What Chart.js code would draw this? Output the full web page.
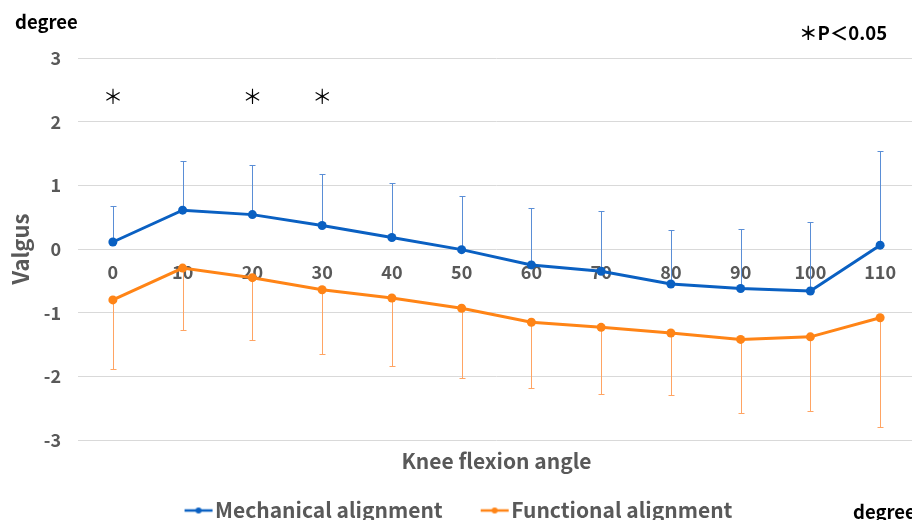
<!DOCTYPE html>
<html>
<head>
<meta charset="utf-8">
<script src="https://cdn.jsdelivr.net/npm/chart.js@4"></script>
<style>
  html, body { margin: 0; padding: 0; background: #fff; overflow: hidden; }
  #wrap { position: relative; width: 920px; height: 531px; }
  .note {
    position: absolute;
    font-family: "Noto Sans CJK JP", "Noto Sans", sans-serif;
    font-weight: bold;
    font-size: 18.5px;
    color: #000;
    white-space: nowrap;
  }
</style>
</head>
<body>
<div id="wrap">
  <canvas id="chart" width="920" height="531"></canvas>
  <div class="note" style="left:15px; top:8px;">degree</div>
  <div class="note" style="left:799px; top:19px;">＊P＜0.05</div>
  <div class="note" style="left:853px; top:498px;">degree</div>
</div>
<script>
// knee flexion angles (x categories)
const angles = ['0', '10', '20', '30', '40', '50', '60', '70', '80', '90', '100', '110'];

// mean valgus angle and SD for each group
const mechanical = [0.11, 0.61, 0.54, 0.37, 0.18, -0.01, -0.25, -0.35, -0.55, -0.62, -0.66, 0.06];
const mechanicalSD = [0.57, 0.77, 0.78, 0.81, 0.85, 0.84, 0.89, 0.94, 0.85, 0.93, 1.09, 1.48];
const functional = [-0.80, -0.30, -0.45, -0.64, -0.77, -0.93, -1.15, -1.23, -1.32, -1.42, -1.38, -1.08];
const functionalSD = [1.09, 0.98, 0.98, 1.01, 1.07, 1.09, 1.04, 1.05, 0.98, 1.15, 1.16, 1.71];

// angles where P < 0.05
const significant = ['0', '20', '30'];
const starLevel = 2.4;

const FONT = '"Noto Sans CJK JP", "Noto Sans", sans-serif';
const GREY = '#595959';
Chart.defaults.font.family = FONT;

// legend marker: short line with a dot, drawn right of the canvas centre
function makeMarker(color) {
    const c = document.createElement('canvas');
    c.width = 46;
    c.height = 10;
    const g = c.getContext('2d');
    g.strokeStyle = color;
    g.lineWidth = 2.5;
    g.beginPath();
    g.moveTo(14, 5);
    g.lineTo(42, 5);
    g.stroke();
    g.fillStyle = color;
    g.beginPath();
    g.arc(28, 5, 3, 0, Math.PI * 2);
    g.fill();
    return c;
}

const errorBars = {
    id: 'errorBars',
    beforeDatasetsDraw(chart) {
        const { ctx, scales: { x, y } } = chart;
        chart.data.datasets.forEach((ds) => {
            ctx.save();
            ctx.strokeStyle = ds.errColor;
            ctx.lineWidth = 1;
            ds.data.forEach((v, j) => {
                const px = Math.round(x.getPixelForValue(j)) + 0.5;
                const y0 = y.getPixelForValue(v);
                const y1 = Math.round(y.getPixelForValue(v + ds.errDir * ds.sd[j])) + 0.5;
                ctx.beginPath();
                ctx.moveTo(px, y0);
                ctx.lineTo(px, y1);
                ctx.moveTo(px - 3, y1);
                ctx.lineTo(px + 3, y1);
                ctx.stroke();
            });
            ctx.restore();
        });
    }
};

const stars = {
    id: 'stars',
    afterDatasetsDraw(chart) {
        const { ctx, scales: { x, y } } = chart;
        ctx.save();
        ctx.fillStyle = '#000';
        ctx.font = '20px ' + FONT;
        ctx.textAlign = 'center';
        ctx.textBaseline = 'middle';
        significant.forEach((a) => {
            ctx.fillText('＊', x.getPixelForValue(angles.indexOf(a)), y.getPixelForValue(starLevel));
        });
        ctx.restore();
    }
};

const markers = [makeMarker('#0A60C2'), makeMarker('#FF8416')];

new Chart(document.getElementById('chart'), {
    type: 'line',
    data: {
        labels: angles,
        datasets: [{
            label: 'Mechanical alignment',
            data: mechanical,
            sd: mechanicalSD,
            errDir: 1,
            errColor: '#5A8ED6',
            borderColor: '#0A60C2',
            backgroundColor: '#0A60C2',
            borderWidth: 3,
            pointRadius: 4.5,
            pointBorderWidth: 0,
            pointHoverRadius: 4.5
        }, {
            label: 'Functional alignment',
            data: functional,
            sd: functionalSD,
            errDir: -1,
            errColor: '#FFA463',
            borderColor: '#FF8416',
            backgroundColor: '#FF8416',
            borderWidth: 3,
            pointRadius: 4.5,
            pointBorderWidth: 0,
            pointHoverRadius: 4.5
        }]
    },
    options: {
        responsive: false,
        animation: false,
        layout: { padding: { top: 58, right: 5, left: 0, bottom: 0 } },
        scales: {
            x: {
                type: 'category',
                position: { y: 0 },
                offset: true,
                grid: { display: false, drawTicks: false },
                border: { display: false },
                ticks: { color: GREY, font: { size: 18, weight: '600' }, padding: 12, maxRotation: 0, autoSkip: false }
            },
            y: {
                min: -3,
                max: 3,
                ticks: { stepSize: 1, color: GREY, font: { size: 18, weight: '600' }, padding: 17 },
                grid: { color: '#D9D9D9', drawTicks: false },
                border: { display: false },
                title: {
                    display: true,
                    text: 'Valgus',
                    color: GREY,
                    font: { size: 22, weight: 'bold' },
                    padding: { top: 7, bottom: 0 }
                },
                afterFit(scale) { scale.width = 78; }
            }
        },
        plugins: {
            tooltip: { enabled: false },
            title: {
                display: true,
                position: 'bottom',
                fullSize: false,
                weight: 500,
                text: 'Knee flexion angle',
                color: GREY,
                font: { size: 21, weight: 'bold', lineHeight: 0.2857 },
                padding: { top: 18, bottom: 0 }
            },
            legend: {
                position: 'bottom',
                labels: {
                    usePointStyle: true,
                    pointStyleWidth: 22,
                    padding: 36,
                    color: GREY,
                    font: { size: 21, weight: '600', lineHeight: 1 },
                    generateLabels(chart) {
                        return Chart.defaults.plugins.legend.labels.generateLabels(chart)
                            .map((item, i) => ({ ...item, pointStyle: markers[i] }));
                    }
                }
            }
        }
    },
    plugins: [errorBars, stars]
});
</script>
</body>
</html>
